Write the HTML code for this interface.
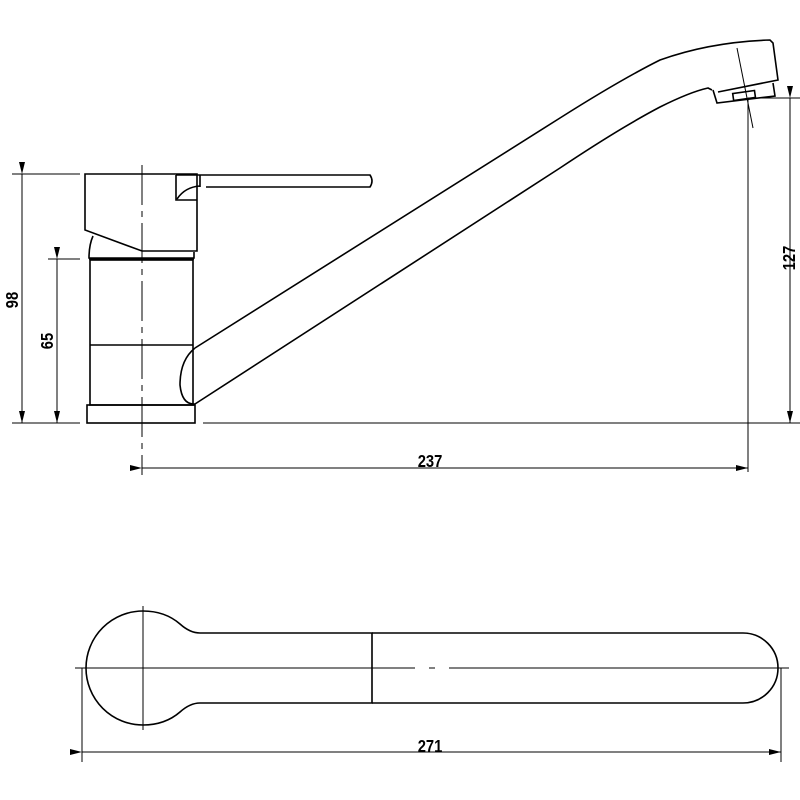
<!DOCTYPE html>
<html><head><style>html,body{margin:0;background:#fff}svg{display:block}</style></head>
<body>
<svg width="800" height="800" viewBox="0 0 800 800" xmlns="http://www.w3.org/2000/svg" font-family="Liberation Sans, sans-serif">
<defs><marker id="a" markerWidth="12" markerHeight="6" refX="12" refY="3" orient="auto" markerUnits="userSpaceOnUse"><path d="M0,0 L12,3 L0,6 Z" fill="#000"/></marker></defs>
<g fill="none" stroke="#000" stroke-width="1.6">
<path d="M85,174 L197,174 L197,251 L142,251 L85,230 Z"/>
<path d="M93,236 Q89,245 89,258 L194,258 L194,252"/>
<line x1="89" y1="259" x2="194" y2="259"/>
<rect x="90" y="260" width="103" height="145"/>
<line x1="90" y1="345" x2="193" y2="345"/>
<rect x="87" y="405" width="108" height="18"/>
<path d="M176,175 L370,175 Q374,181 370,187 L206,187"/>
<path d="M176,175 L176,200 L197,200"/>
<path d="M177,199 Q185,187 200,186"/>
<line x1="200" y1="175" x2="200" y2="187"/>
<path d="M195,348 L560,118 Q620,80 660,60 Q710,42 770,40 L773,43 L778,80 L718,92"/>
<path d="M195,404 L560,168 Q620,128 660,107 Q690,92 708,88 L712,90"/>
<path d="M195,348 Q180,360 180,385 Q182,405 195,404"/>
<path d="M713,90 L717,103 L775,96 L773,83"/>
<rect x="733" y="92" width="22" height="7" transform="rotate(-8 744 95)"/>
</g>
<g stroke="#000" stroke-width="1">
<line x1="737" y1="48" x2="753" y2="128"/>
<line x1="142" y1="165" x2="142" y2="475" stroke-dasharray="40,6,6,6"/>
<line x1="12" y1="174" x2="80" y2="174"/><line x1="12" y1="423" x2="80" y2="423"/>
<line x1="22" y1="174" x2="22" y2="423" marker-start="url(#a)" marker-end="url(#a)"/>
<line x1="48" y1="259" x2="80" y2="259"/>
<line x1="57" y1="259" x2="57" y2="423" marker-start="url(#a)" marker-end="url(#a)"/>
<line x1="203" y1="423" x2="800" y2="423"/>
<line x1="748" y1="98" x2="748" y2="472"/>
<line x1="748" y1="98" x2="800" y2="98"/>
<line x1="790" y1="98" x2="790" y2="423" marker-start="url(#a)" marker-end="url(#a)"/>
<line x1="142" y1="468" x2="748" y2="468" marker-start="url(#a)" marker-end="url(#a)"/>
<line x1="75" y1="668" x2="790" y2="668" stroke-dasharray="340,14,6,14"/>
<line x1="143" y1="606" x2="143" y2="730"/>
<line x1="82" y1="668" x2="82" y2="762"/><line x1="781" y1="668" x2="781" y2="762"/>
<line x1="82" y1="752" x2="781" y2="752" marker-start="url(#a)" marker-end="url(#a)"/>
</g>
<g fill="none" stroke="#000" stroke-width="1.6">
<path d="M200,633 L372,633 L372,703 L200,703 Q190,703 180,712 Q165,725 143,725 A57,57 0 0 1 143,611 Q165,611 180,624 Q190,633 200,633 Z"/>
<path d="M372,633 L743,633 A35,35 0 0 1 743,703 L372,703"/>
</g>
<g font-weight="bold" font-size="18" fill="#000" text-anchor="middle">
<text transform="translate(18,300) rotate(-90) scale(0.82,1)">98</text>
<text transform="translate(53,341) rotate(-90) scale(0.82,1)">65</text>
<text transform="translate(795,258) rotate(-90) scale(0.82,1)">127</text>
<text transform="translate(430,467) scale(0.82,1)">237</text>
<text transform="translate(430,752) scale(0.82,1)">271</text>
</g>
</svg>
</body></html>
